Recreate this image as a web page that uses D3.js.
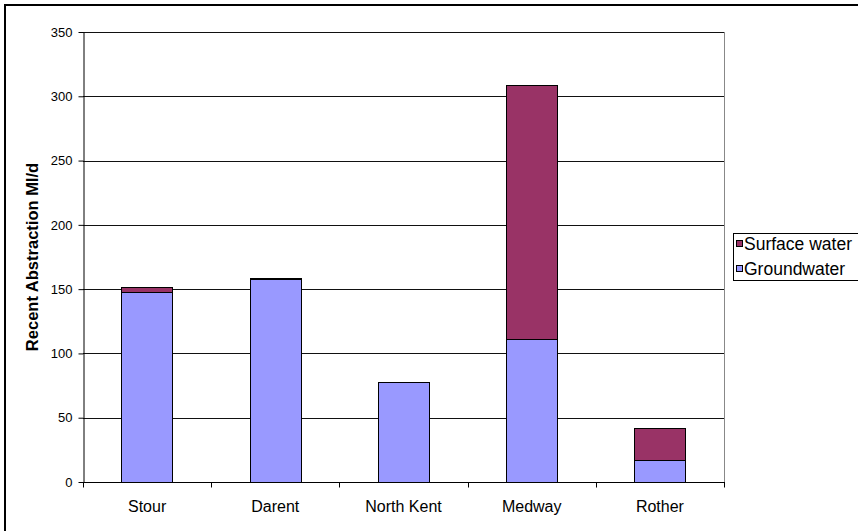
<!DOCTYPE html>
<html>
<head>
<meta charset="utf-8">
<script src="https://cdn.jsdelivr.net/npm/d3@7"></script>
<style>
  html, body { margin: 0; padding: 0; background: #fff; }
  svg { display: block; font-family: "Liberation Sans", Arial, sans-serif; }
</style>
</head>
<body>
<svg id="chart" width="858" height="531"></svg>
<script>
// Recent abstraction by catchment, Ml/d
const categories = ["Stour", "Darent", "North Kent", "Medway", "Rother"];
const groundwater = [147.5, 158, 77.4, 111, 17];
const surfaceWater = [4.5, 0.5, 0.5, 198, 25.2];
const yTicks = [0, 50, 100, 150, 200, 250, 300, 350];
const seriesNames = ["Groundwater", "Surface water"];
const seriesColors = ["#9999FF", "#993366"];

const svg = d3.select("#chart");
const W = 858, H = 531;
const plot = { left: 83, right: 724, top: 32, bottom: 482 };

// outer chart frame (extends past right/bottom edge)
svg.append("rect")
  .attr("x", 5).attr("y", 5)
  .attr("width", W + 20).attr("height", H + 20)
  .attr("fill", "#fff").attr("stroke", "#000").attr("stroke-width", 2);

const x = d3.scaleBand().domain(categories)
  .range([plot.left, plot.right]).paddingInner(0.6).paddingOuter(0.3);
const xb = d3.scaleBand().domain(categories).range([plot.left, plot.right]);
const y = d3.scaleLinear().domain([0, 350]).range([plot.bottom, plot.top]);

// gridlines
svg.append("g").selectAll("line").data(yTicks.filter(d => d > 0)).join("line")
  .attr("x1", plot.left).attr("x2", plot.right)
  .attr("y1", d => Math.round(y(d)) + 0.5).attr("y2", d => Math.round(y(d)) + 0.5)
  .attr("stroke", "#111").attr("stroke-width", 1);

// plot area right edge
svg.append("line")
  .attr("x1", plot.right + 0.5).attr("x2", plot.right + 0.5)
  .attr("y1", plot.top).attr("y2", plot.bottom)
  .attr("stroke", "#888").attr("stroke-width", 1);

// stacked bars
const table = categories.map((c, i) => ({ cat: c, Groundwater: groundwater[i], "Surface water": surfaceWater[i] }));
const stacked = d3.stack().keys(seriesNames)(table);
const color = d3.scaleOrdinal().domain(seriesNames).range(seriesColors);

svg.append("g").selectAll("g").data(stacked).join("g")
  .attr("fill", d => color(d.key))
  .selectAll("rect").data(d => d).join("rect")
  .attr("x", d => Math.round(x(d.data.cat)) + 0.5)
  .attr("width", Math.round(x.bandwidth()))
  .attr("y", d => Math.round(y(d[1])) + 0.5)
  .attr("height", d => Math.max(0, Math.round(y(d[0])) - Math.round(y(d[1]))))
  .attr("stroke", "#000").attr("stroke-width", 1);

// y axis
const yAxis = svg.append("g")
  .attr("transform", `translate(${plot.left + 0.5},0)`)
  .call(d3.axisLeft(y).tickValues(yTicks).tickSize(5).tickPadding(6).tickSizeOuter(0));
yAxis.select(".domain").attr("stroke", "#000");
yAxis.selectAll(".tick line").attr("stroke", "#000");
yAxis.selectAll(".tick text").attr("font-size", 13).attr("fill", "#000")
  .attr("font-family", "Liberation Sans, Arial, sans-serif");

// x axis: ticks on category boundaries
const xAxisG = svg.append("g").attr("transform", `translate(0,${plot.bottom + 0.5})`);
xAxisG.append("line").attr("x1", plot.left).attr("x2", plot.right + 1)
  .attr("stroke", "#000");
const bounds = categories.map(c => xb(c)).concat([plot.right]);
xAxisG.selectAll("line.tk").data(bounds).join("line").attr("class", "tk")
  .attr("x1", d => Math.round(d) + 0.5).attr("x2", d => Math.round(d) + 0.5)
  .attr("y1", 0).attr("y2", 5).attr("stroke", "#000");
xAxisG.selectAll("text").data(categories).join("text")
  .attr("x", d => xb(d) + xb.bandwidth() / 2)
  .attr("y", 29)
  .attr("text-anchor", "middle")
  .attr("font-size", 16).attr("fill", "#000")
  .text(d => d);

// y axis title
svg.append("text")
  .attr("transform", `translate(38,${(plot.top + plot.bottom) / 2}) rotate(-90)`)
  .attr("text-anchor", "middle")
  .attr("font-size", 16.5).attr("font-weight", "bold").attr("fill", "#000")
  .text("Recent Abstraction Ml/d");

// legend
const legend = svg.append("g");
legend.append("rect")
  .attr("x", 733.5).attr("y", 233.5).attr("width", 140).attr("height", 47)
  .attr("fill", "#fff").attr("stroke", "#000");
const legendItems = ["Surface water", "Groundwater"];
legend.selectAll("g.item").data(legendItems).join("g").attr("class", "item")
  .attr("transform", (d, i) => `translate(0,${244 + i * 25})`)
  .each(function (d) {
    const g = d3.select(this);
    g.append("rect").attr("x", 736.5).attr("y", -3.5).attr("width", 6).attr("height", 6)
      .attr("fill", color(d)).attr("stroke", "#000");
    g.append("text").attr("x", 744).attr("y", 5.5)
      .attr("font-size", 17.5).attr("fill", "#000").text(d);
  });
</script>
</body>
</html>
